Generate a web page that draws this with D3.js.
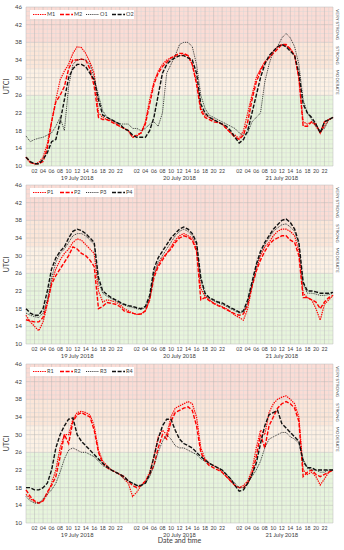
<!DOCTYPE html>
<html>
<head>
<meta charset="utf-8">
<script src="https://cdn.jsdelivr.net/npm/d3@7"></script>
<style>
  body { margin: 0; background: #fff; }
  svg { font-family: Lato, "Open Sans", sans-serif; }
</style>
</head>
<body>
<svg id="chart" width="344" height="550"></svg>
<script>
// hourly UTCI values, hour 0 of 19 July 2018 .. hour 0 of 22 July 2018
const hours = d3.range(0, 73)
const dayLabels = ["19 July 2018", "20 July 2018", "21 July 2018"]
const hourTicks = ["02","04","06","08","10","12","14","16","18","20","22"]
const yTicks = [10, 14, 18, 22, 26, 30, 34, 38, 42, 46]
const bands = [
  {name: "", lo: 10, hi: 26, color: "#e7f5dc"},
  {name: "MODERATE", lo: 26, hi: 32, color: "#fdf1e4"},
  {name: "STRONG", lo: 32, hi: 38, color: "#fce6d8"},
  {name: "VERY STRONG", lo: 38, hi: 46, color: "#fbdcd5"}
]

const M1 = [12,10.8,10.5,10.8,12,15,20,25,29.5,31.5,33,35.5,37,36.8,35.5,33.5,31,22,21,20.5,20.3,19.8,19,18.5,18,16.5,16.8,17.5,20,25,29,31.5,33,34,34.5,34.8,35,35.2,35,33,29,23,21.5,21,20.5,20,19.5,18.5,17.5,17,16.2,18,22,26,30,32,33.5,34.5,36,37,37.5,37.2,36.5,35,30,20,19.5,20,19,17.5,19,20.5,21]
const M2 = [12,10.8,10.5,10.5,11,14,20,24.5,26,28,32,34,34,34.2,34,32,28,21,20.5,20.5,20,19.5,19,18.5,18,16.5,17,17.5,19.5,24,28.5,31,32.5,33.5,34.5,35,35.5,35.5,35,33,28.5,22.5,21,20.5,20,19.8,19.5,18.5,17.5,16.5,16,17,20,25,29,31.5,33.5,34.5,35.5,36.5,37.5,37.5,36.5,35,30,19,19,20,19.5,17.5,20,20.5,21]
const O1 = [16.8,15.5,16,16.3,16.5,17,17.5,19,21,18,28,33,34,34.2,34,33,30,26,22.5,21,20.5,20,19.5,19.5,19.5,18.5,18.5,18,18.5,19.5,20,19,22,31,33,35,37.5,38,38,37,33,26,23,21.5,21,20.5,20,19.5,19,18.5,17.5,17,17.5,20,21,22,29,33,36,37,39,40,39,37,33,25,22,20.5,19,18,18.5,20.5,21]
const O2 = [12,11,10.5,10.5,11.5,13,15.5,16,20,25,30,32,33,33,32.5,31,29.5,25,21.5,21,20.5,20,19.5,18.5,18,17,16.5,16.5,16.5,18,21,26,31,33,34,34.5,35,35,34.5,34,31,24,22,21,20.5,20,19.5,19,18,16.5,15.2,16,18,22,26,30,33,35,36,37,37.5,37,36,35,31,24,22,21,19.5,17.5,20,20.5,21]

const P1 = [16.5,15,14,13,15,19,24,27,29,30.5,31.5,33,33.8,33.5,32.5,31.5,30.5,22,19.5,20,19.8,19.5,19,18,17.5,17,16.7,16.8,17.5,20,25.5,28,29.5,30.5,32,33.5,34.5,35,34.5,34,31.5,22.5,20.8,20,19.3,18.8,18.5,18,17.3,16.5,16,15.4,18,23,27,30,32,33,34.5,35.5,36,36,35.5,34.5,31,21.5,20.5,20,18,15.4,19,20,21]
const P2 = [15.5,15.2,15,15,16,19.5,23.5,25.5,27,28.5,30,32,31.5,30.5,30,29,27.5,18,18.5,19.4,19.2,19,18.5,17.5,17.2,17,16.7,16.8,17.5,20,25,27.5,29,30.5,31.5,33,34,34.5,34.2,33.5,31,20,20.5,19.8,19.2,18.7,18.3,17.8,17.3,16.8,16.5,16.8,19,23,26.5,29,31,32.5,33.5,34,34.5,34.5,33.5,33,30,20.5,20.5,20,19.5,18,19.5,20.5,21]
const P3 = [17,16.5,16.2,16,17,20,25,28.5,30.5,31.5,33,34.5,35,35,34.5,33.5,32.5,24,21.5,20.8,20.3,19.8,19.3,18.8,18.5,18.3,18,17.8,18.3,20.5,26,28.5,30,31.5,33,34.5,35.5,36,35.5,34.5,32.5,24.5,21,20.3,19.8,19.3,19,18.5,18,17.5,17,17.2,19.5,23.5,27.5,30.5,32.5,34,35.5,36.3,37,37.2,36.5,35.5,32.5,23.5,21.5,21.5,21.3,21,21,21.2,21.5]
const P4 = [18,17,16.5,16.5,18,22,27,29.5,31,32,34,35.5,36,35.7,35,34,33,25,22,21.2,20.5,20,19.5,19,18.7,18.5,18.2,18,18.5,21,27,29.5,31,32.5,34,35,36,36.5,36,35,33,25,21.5,20.5,20,19.5,19.3,18.8,18.2,17.8,17.2,17.5,20,24,28,31,33,34.5,36,37,38,38.3,37.5,36,33,24,22,22,21.8,21.5,21.5,21.5,21.7]

const R1 = [16.5,15.5,14.8,14.5,15,16.5,19,22,27,30,30,33.5,35,35.3,35,34.5,32,26.5,24,23,22,21.5,21,20,19,16,17,18.5,19.5,21.5,25,29.5,31,30,34,36,36.5,37,37.5,37,34,27,24.5,23.5,23,22.5,21.5,20.5,19.5,18.5,18,18.5,19.5,22,27,31,30,35,37,38,38.5,38.8,38,37,34,22,21,21.5,20.5,18.6,20,21.5,22]
const R2 = [17.5,16,15,14.5,15,17,18.5,20.5,25,30,28,33,34.5,35,34.5,34,31,26,23.5,22.5,22,21.5,21,20.5,19.5,18.5,18,18.5,19.5,21,23,27,30,29,33,35,35.5,36,36.3,35.5,32,26,24,23,22.5,22,21.5,20.5,19.5,18.5,18,18,19,21,25,30,27,32,34,36,37,37.5,37,36,33,20.5,21.5,22,21,20.5,21,21.5,22]
const R3 = [16,15,14.5,14.5,15.5,16.5,17.5,19,21.5,24.5,26.5,27,26.5,26,26,25.5,25,24,23,22.5,22,21.5,21,20,19.5,19,18.5,18.5,19,20.5,23,26,28.5,30,29,27.5,27,27,26.5,26,25.5,24.5,24,23.5,23,22.5,22,21,20,19,18,18,19,20.5,22,24,27,29,29.5,30,30.5,30.5,29.5,29,28,24.5,22.5,22,22,21.5,21.5,22,22]
const R4 = [18,18,17.5,17.5,18,19,22,27,30,32,33.5,33.8,30,28.5,27.5,26.5,25.5,24.5,23.5,22.8,22,21.5,21,20.5,19.5,19,18.5,18.5,19,21,25,29,32,33.5,33.5,31,29,28,27.5,27,26,25,24.3,23.5,23,22.5,22,21,20,18.5,17.2,17.5,19,21,23.5,28,32,34.5,35,35.5,32.5,31.5,30.5,29.5,28.5,24,22.5,22.5,22,22,22,22,22]

const panels = [
  {top: 7, names: ["M1","M2","O1","O2"], series: [M1, M2, O1, O2]},
  {top: 185, names: ["P1","P2","P3","P4"], series: [P1, P2, P3, P4]},
  {top: 364, names: ["R1","R2","R3","R4"], series: [R1, R2, R3, R4]}
]
const styles = [
  {color: "#ff0000", dash: "1.4,0.9", width: 1.2},
  {color: "#ff0000", dash: "4,1.6", width: 1.4},
  {color: "#222", dash: "1,0.9", width: 0.9},
  {color: "#111", dash: "4,1.6", width: 1.4}
]

const svg = d3.select("#chart")
const left = 26, right = 333, panelH = 159
const x = d3.scaleLinear().domain([0, 72]).range([left, right])

panels.forEach((p, pi) => {
  const y = d3.scaleLinear().domain([10, 46]).range([p.top + panelH, p.top])
  const g = svg.append("g")

  // stress bands
  g.selectAll("rect.band").data(bands).join("rect")
    .attr("x", left).attr("width", right - left)
    .attr("y", d => y(d.hi)).attr("height", d => y(d.lo) - y(d.hi))
    .attr("fill", d => d.color)

  // grid
  g.append("g").selectAll("line").data(d3.range(10, 47)).join("line")
    .attr("x1", left).attr("x2", right)
    .attr("y1", d => y(d)).attr("y2", d => y(d))
    .attr("stroke", d => (d - 10) % 4 == 0 ? "#b9b9b9" : "#d6d6d6")
    .attr("stroke-width", 0.5)
  g.append("g").selectAll("line").data(d3.range(0, 73)).join("line")
    .attr("x1", d => x(d)).attr("x2", d => x(d))
    .attr("y1", y(10)).attr("y2", y(46))
    .attr("stroke", d => d % 2 == 0 ? "#b9b9b9" : "#d6d6d6")
    .attr("stroke-width", 0.5)

  // y axis labels
  g.append("g").selectAll("text").data(yTicks).join("text")
    .attr("x", left - 4).attr("y", d => y(d)).attr("dy", "0.35em")
    .attr("text-anchor", "end").attr("font-size", 6).attr("fill", "#404040")
    .text(d => d)
  g.append("text")
    .attr("transform", `translate(9, ${p.top + panelH / 2}) rotate(-90)`)
    .attr("text-anchor", "middle").attr("font-size", 7).attr("fill", "#404040")
    .text("UTCI")

  // band names on the right
  g.append("g").selectAll("text").data(bands.filter(b => b.name)).join("text")
    .attr("transform", d => `translate(${right + 3}, ${y((d.lo + d.hi) / 2)}) rotate(90)`)
    .attr("text-anchor", "middle").attr("font-size", 4.6).attr("fill", "#404040")
    .text(d => d.name)

  // x labels
  const xl = g.append("g")
  for (let day = 0; day < 3; day++) {
    hourTicks.forEach(t => {
      xl.append("text")
        .attr("x", x(day * 24 + (+t))).attr("y", y(10) + 7)
        .attr("text-anchor", "middle").attr("font-size", 5.2).attr("fill", "#404040")
        .text(t)
    })
    xl.append("text")
      .attr("x", x(day * 24 + 12)).attr("y", y(10) + 13.5)
      .attr("text-anchor", "middle").attr("font-size", 5.8).attr("fill", "#404040")
      .text(dayLabels[day])
  }

  // series lines
  const line = d3.line().x((d, i) => x(hours[i])).y(d => y(d))
  p.series.forEach((s, si) => {
    g.append("path").datum(s)
      .attr("d", line)
      .attr("fill", "none")
      .attr("stroke", styles[si].color)
      .attr("stroke-width", styles[si].width)
      .attr("stroke-dasharray", styles[si].dash)
  })

  // legend
  const lg = g.append("g").attr("transform", `translate(30, ${p.top + 3})`)
  lg.append("rect").attr("width", 104).attr("height", 9).attr("fill", "#fff")
  const itemX = [3, 30, 56, 82]
  p.names.forEach((n, si) => {
    lg.append("line")
      .attr("x1", itemX[si]).attr("x2", itemX[si] + 13)
      .attr("y1", 4.5).attr("y2", 4.5)
      .attr("stroke", styles[si].color)
      .attr("stroke-width", styles[si].width)
      .attr("stroke-dasharray", styles[si].dash)
    lg.append("text")
      .attr("x", itemX[si] + 14).attr("y", 4.5).attr("dy", "0.35em")
      .attr("font-size", 5.5).attr("fill", "#404040")
      .text(n)
  })
})

svg.append("text")
  .attr("x", (left + right) / 2).attr("y", 543)
  .attr("text-anchor", "middle").attr("font-size", 7).attr("fill", "#404040")
  .text("Date and time")
</script>
</body>
</html>
